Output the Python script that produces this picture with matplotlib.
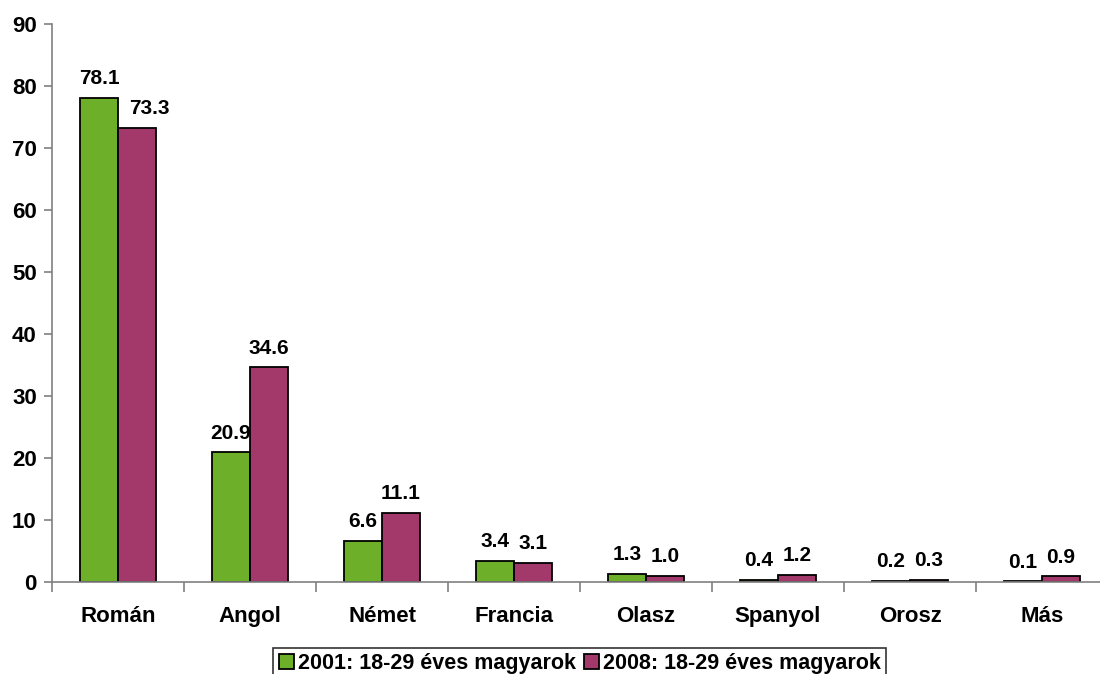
import numpy as np
import matplotlib as mpl
mpl.use('Agg')
import matplotlib.pyplot as plt

mpl.rcParams['font.family'] = ['Liberation Sans', 'DejaVu Sans']
mpl.rcParams['font.weight'] = 'bold'

# data
languages = ['Román', 'Angol', 'Német', 'Francia', 'Olasz', 'Spanyol', 'Orosz', 'Más']
v2001 = [78.1, 20.9, 6.6, 3.4, 1.3, 0.4, 0.2, 0.1]
v2008 = [73.3, 34.6, 11.1, 3.1, 1.0, 1.2, 0.3, 0.9]
series_names = ['2001: 18-29 éves magyarok', '2008: 18-29 éves magyarok']

green = '#6DAF28'
purple = '#A3386A'

fig = plt.figure(figsize=(11, 6.74), dpi=100)
ax = fig.add_axes([52/1100, 1-582/674, 1056/1100, 558/674])

x = np.arange(len(languages))
w = 0.288
b1 = ax.bar(x - w/2, v2001, w, color=green, edgecolor='black', linewidth=1.3,
            label=series_names[0])
b2 = ax.bar(x + w/2, v2008, w, color=purple, edgecolor='black', linewidth=1.3,
            label=series_names[1])

for k, (bars, vals) in enumerate(((b1, v2001), (b2, v2008))):
    for i, (r, v) in enumerate(zip(bars, vals)):
        # Excel nudged the first 2008 label right so it clears the green bar
        dx = 9 if (k == 1 and i == 0) else 0
        ax.annotate('%.1f' % v, (r.get_x() + r.get_width()/2, v),
                    xytext=(dx, 7), textcoords='offset points',
                    ha='center', va='bottom', fontsize=15, fontweight='bold')

ax.set_xlim(-0.5, len(languages) - 0.5)
ax.set_ylim(0, 90)
ax.set_yticks(range(0, 91, 10))
ax.set_xticks(np.arange(len(languages) + 1) - 0.5)
ax.set_xticklabels([])
ax.set_xticks(x, minor=True)
ax.set_xticklabels(languages, minor=True)
ax.tick_params(axis='x', which='minor', length=0, pad=17, labelsize=16)
ax.tick_params(axis='x', which='major', length=7, direction='out', color='#808080', width=1.2)
ax.tick_params(axis='y', length=6, direction='out', color='#808080', width=1.2,
               labelsize=16, pad=5)

for s in ('top', 'right'):
    ax.spines[s].set_visible(False)
ax.spines['left'].set_color('#808080')
ax.spines['bottom'].set_color('#808080')
ax.spines['left'].set_linewidth(1.2)
ax.spines['bottom'].set_linewidth(1.2)

leg = fig.legend(loc='upper center', bbox_to_anchor=(0.527, 1-648/674), ncol=2,
                 fontsize=15.5, frameon=True, fancybox=False, edgecolor='black',
                 handlelength=0.7, handleheight=0.7, handletextpad=0.2,
                 columnspacing=0.35, borderpad=0.25, borderaxespad=0)
leg.get_frame().set_linewidth(1.2)

plt.savefig('out.png', dpi=100)
